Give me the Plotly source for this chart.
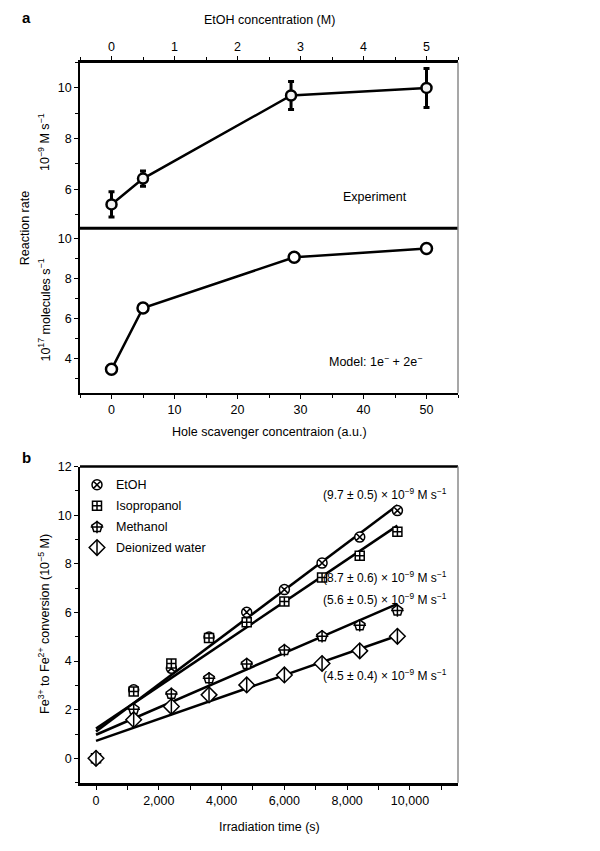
import plotly.graph_objects as go

W, H = 600, 851

# ---------------- Panel a data ----------------
etoh_conc = [0, 0.5, 2.85, 5]          # M
exp_rate = [5.4, 6.42, 9.7, 10.0]       # 1e-9 M/s
exp_err = [0.5, 0.3, 0.55, 0.77]
scav_conc = [0, 5, 29, 50]              # a.u.
model_rate = [3.45, 6.53, 9.07, 9.51]   # 1e17 molecules/s

# ---------------- Panel b data ----------------
time_s = [0, 1200, 2400, 3600, 4800, 6000, 7200, 8400, 9600]
etoh_conv = [0, 2.82, 3.70, 4.99, 6.01, 6.94, 8.03, 9.10, 10.19]
iso_conv = [0, 2.75, 3.90, 4.95, 5.60, 6.45, 7.44, 8.33, 9.32]
meoh_conv = [0, 2.02, 2.65, 3.29, 3.88, 4.45, 5.02, 5.47, 6.08]
water_conv = [0, 1.59, 2.13, 2.61, 3.02, 3.43, 3.90, 4.42, 5.02]

fit_x = [0, 9600]
fit_etoh = [1.10, 10.41]
fit_iso = [1.22, 9.57]
fit_meoh = [0.97, 6.35]
fit_water = [0.72, 5.04]

rate_labels = ["(9.7 ± 0.5) × 10<sup>−9</sup> M s<sup>−1</sup>",
               "(8.7 ± 0.6) × 10<sup>−9</sup> M s<sup>−1</sup>",
               "(5.6 ± 0.5) × 10<sup>−9</sup> M s<sup>−1</sup>",
               "(4.5 ± 0.4) × 10<sup>−9</sup> M s<sup>−1</sup>"]
legend_names = ["EtOH", "Isopropanol", "Methanol", "Deionized water"]

FONT = "Liberation Sans, Arial, sans-serif"
FS = 12.5

# page offset of the figure inside the browser page
DX, DY = 8, 12

def px(x):
    return (x - DX) / W

def py(y):
    return 1 - (y - DY) / H

X0, X1 = px(80), px(458)
A_TOP, A_MID, A_BOT = 60, 227, 393
B_TOP, B_BOT = 467.3, 786

fig = go.Figure()

# Panel a top: experiment
fig.add_trace(go.Scatter(
    x=etoh_conc, y=exp_rate, xaxis="x", yaxis="y", mode="lines+markers",
    line=dict(color="black", width=2.5),
    marker=dict(symbol="circle", size=10, color="#f2f2f2", line=dict(color="black", width=2.5)),
    error_y=dict(type="data", array=exp_err, thickness=3, width=3, color="black"),
    showlegend=False))

# Panel a bottom: model
fig.add_trace(go.Scatter(
    x=scav_conc, y=model_rate, xaxis="x2", yaxis="y2", mode="lines+markers",
    line=dict(color="black", width=2.5),
    marker=dict(symbol="circle", size=11, color="white", line=dict(color="black", width=2.5)),
    showlegend=False))

# Panel b fit lines
for fy in [fit_etoh, fit_iso, fit_meoh, fit_water]:
    fig.add_trace(go.Scatter(x=fit_x, y=fy, xaxis="x3", yaxis="y3", mode="lines",
                             line=dict(color="black", width=2.5), showlegend=False))

def add_pts(xs, ys, xa, ya, kind):
    base = dict(xaxis=xa, yaxis=ya, mode="markers", showlegend=False, hoverinfo="skip")
    if kind == 0:
        fig.add_trace(go.Scatter(x=xs, y=ys, marker=dict(symbol="circle-x", size=10, color="white",
                                 line=dict(color="black", width=1.5)), **base))
    elif kind == 1:
        fig.add_trace(go.Scatter(x=xs, y=ys, marker=dict(symbol="square-cross", size=9, color="white",
                                 line=dict(color="black", width=1.5)), **base))
    elif kind == 2:
        fig.add_trace(go.Scatter(x=xs, y=ys, marker=dict(symbol="pentagon", size=11, color="white",
                                 line=dict(color="black", width=1.5)), **base))
        fig.add_trace(go.Scatter(x=xs, y=ys, marker=dict(symbol="cross-thin-open", size=9, color="black",
                                 line=dict(color="black", width=1.5)), **base))
    else:
        fig.add_trace(go.Scatter(x=xs, y=ys, marker=dict(symbol="diamond", size=12, color="white",
                                 line=dict(color="black", width=1.5)), **base))
        fig.add_trace(go.Scatter(x=xs, y=ys, marker=dict(symbol="line-ns-open", size=11, color="black",
                                 line=dict(color="black", width=1.5)), **base))

for k, ys in enumerate([etoh_conv, iso_conv, meoh_conv, water_conv]):
    add_pts(time_s, ys, "x3", "y3", k)

# Legend markers on a hidden overlay axis
leg_rows = [485.7, 506.7, 528.3, 549.0]
leg_x = (97 - 80) / (458 - 80)
for k, ry in enumerate(leg_rows):
    yy = (B_BOT - ry) / (B_BOT - B_TOP)
    add_pts([leg_x], [yy], "x4", "y4", k)

axis_common = dict(showline=True, linecolor="black", ticks="outside", ticklen=4, tickwidth=1.2,
                   tickcolor="black", showgrid=False, zeroline=False,
                   tickfont=dict(family=FONT, size=FS, color="black"))

fig.update_layout(
    width=W, height=H, margin=dict(l=0, r=0, t=0, b=0),
    paper_bgcolor="white", plot_bgcolor="white",
    font=dict(family=FONT, size=FS, color="black"),
    xaxis=dict(domain=[X0, X1], anchor="y", side="top", range=[-0.5, 5.5], dtick=1, tick0=0,
               linewidth=2.5, minor=dict(dtick=0.5, ticks="outside", ticklen=3, tickcolor="black"),
               **axis_common),
    yaxis=dict(domain=[py(A_MID), py(A_TOP)], anchor="x", range=[4.46, 11.0], dtick=2, tick0=0,
               linewidth=1.5, minor=dict(dtick=1, ticks="outside", ticklen=3, tickcolor="black"),
               **axis_common),
    xaxis2=dict(domain=[X0, X1], anchor="y2", range=[-5, 55], dtick=10, tick0=0,
                linewidth=2, minor=dict(dtick=5, ticks="outside", ticklen=3, tickcolor="black"),
                **axis_common),
    yaxis2=dict(domain=[py(A_BOT), py(A_MID)], anchor="x2", range=[2.27, 10.53], dtick=2, tick0=0,
                linewidth=1.5, minor=dict(dtick=1, ticks="outside", ticklen=3, tickcolor="black"),
                **axis_common),
    xaxis3=dict(domain=[X0, X1], anchor="y3", range=[-510, 11530], dtick=2000, tick0=0,
                tickformat=",d", linewidth=3,
                minor=dict(dtick=1000, ticks="outside", ticklen=4, tickcolor="black"),
                **axis_common),
    yaxis3=dict(domain=[py(B_BOT), py(B_TOP)], anchor="x3", range=[-1, 12], dtick=2, tick0=0,
                linewidth=1.5, minor=dict(dtick=1, ticks="outside", ticklen=3, tickcolor="black"),
                **axis_common),
    xaxis4=dict(overlaying="x3", anchor="y4", range=[0, 1], visible=False),
    yaxis4=dict(overlaying="y3", anchor="x4", range=[0, 1], visible=False),
)

shapes = [
    dict(type="line", xref="paper", yref="paper", x0=X0, x1=X1, y0=py(A_MID), y1=py(A_MID),
         line=dict(color="black", width=3)),
    dict(type="line", xref="paper", yref="paper", x0=X1, x1=X1, y0=py(A_BOT), y1=py(A_TOP),
         line=dict(color="#8a8a8a", width=1.5)),
    dict(type="line", xref="paper", yref="paper", x0=X0, x1=X1, y0=py(B_TOP), y1=py(B_TOP),
         line=dict(color="black", width=2.5)),
    dict(type="line", xref="paper", yref="paper", x0=X1, x1=X1, y0=py(B_BOT), y1=py(B_TOP),
         line=dict(color="#8a8a8a", width=1.5)),
]
fig.update_layout(shapes=shapes)

ann = []
def A(text, x, y, size=FS, angle=0, xanchor="center", bold=False):
    t = f"<b>{text}</b>" if bold else text
    ann.append(dict(text=t, x=px(x), y=py(y), xref="paper", yref="paper", showarrow=False,
                    textangle=angle, xanchor=xanchor, yanchor="middle",
                    font=dict(family=FONT, size=size, color="black")))

A("a", 20, 15, size=15, bold=True, xanchor="left")
A("b", 20, 458, size=15, bold=True, xanchor="left")
A("EtOH concentration (M)", 269, 17)
A("Reaction rate", 25, 227, angle=-90)
A("10<sup>−9</sup> M s<sup>−1</sup>", 44, 140, angle=-90)
A("10<sup>17</sup> molecules s<sup>−1</sup>", 44, 310, angle=-90)
A("Experiment", 375, 196)
A("Model: 1e<sup>−</sup> + 2e<sup>−</sup>", 375, 361)
A("Hole scavenger concentraion (a.u.)", 269, 432)
A("Fe<sup>3+</sup> to Fe<sup>2+</sup> conversion (10<sup>−5</sup> M)", 44, 626, angle=-90)
A("Irradiation time (s)", 269, 831)
rate_pos = [(449, 495), (449, 579), (449, 601), (449, 677)]
for t, (xx, yy) in zip(rate_labels, rate_pos):
    A(t, xx, yy, size=12, xanchor="right")
for name, ry in zip(legend_names, leg_rows):
    A(name, 114, ry, xanchor="left")

fig.update_layout(annotations=ann)
fig.write_html("out.html")
